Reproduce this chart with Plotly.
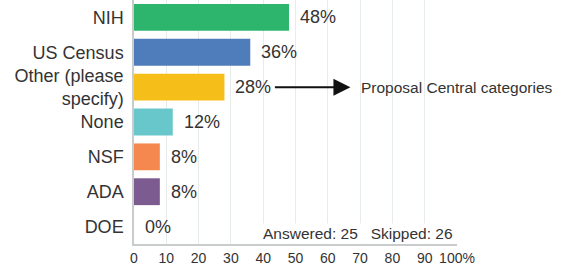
import plotly.graph_objects as go

categories = ["NIH", "US Census", "Other (please<br>specify)", "None", "NSF", "ADA", "DOE"]
values = [48, 36, 28, 12, 8, 8, 0]
labels = ["48%", "36%", "28%", "12%", "8%", "8%", "0%"]
colors = ["#2eb56d", "#4f7cba", "#f6be19", "#68c7cb", "#f5884f", "#7c5b91", "#888888"]
tick_vals = [0, 10, 20, 30, 40, 50, 60, 70, 80, 90, 100]
tick_text = ["0", "10", "20", "30", "40", "50", "60", "70", "80", "90", "100%"]
note_text = "Proposal Central categories"
arrow_head_value = 67
note_value = 70
footer_text = "Answered: 25&nbsp;&nbsp;&nbsp;Skipped: 26"

FONT = "Arial, Liberation Sans, sans-serif"
TXT = "#333333"

fig = go.Figure()
fig.add_trace(go.Bar(
    x=values, y=categories, orientation="h",
    marker=dict(color=colors, line=dict(width=0)),
    hoverinfo="skip",
))

annotations = []
for c, v, lab in zip(categories, values, labels):
    annotations.append(dict(
        x=v, y=c, xref="x", yref="y", text=lab, showarrow=False,
        xanchor="left", yanchor="middle", xshift=9,
        font=dict(family=FONT, size=18, color=TXT),
    ))

# arrow from "28%" label to note
annotations.append(dict(
    x=arrow_head_value, y=categories[2], xref="x", yref="y",
    ax=-77, ay=0, axref="pixel", ayref="pixel",
    text="", showarrow=True, arrowhead=2, arrowsize=1.7, arrowwidth=2,
    arrowcolor="#111111",
))
annotations.append(dict(
    x=note_value, y=categories[2], xref="x", yref="y", text=note_text,
    showarrow=False, xanchor="left", yanchor="middle", xshift=-1,
    font=dict(family=FONT, size=15.5, color=TXT),
))
annotations.append(dict(
    x=100, y=0.045, xref="x", yref="paper", text=footer_text,
    showarrow=False, xanchor="right", yanchor="middle", xshift=-2,
    font=dict(family=FONT, size=15.5, color=TXT),
    bgcolor="white",
))

fig.update_layout(
    width=572, height=266,
    margin=dict(l=134, r=115, t=0, b=19),
    paper_bgcolor="white", plot_bgcolor="white",
    bargap=0.23,
    showlegend=False,
    annotations=annotations,
    font=dict(family=FONT, color=TXT),
    xaxis=dict(
        range=[0, 100], tickvals=tick_vals, ticktext=tick_text,
        showgrid=True, gridcolor="#e6ebec", gridwidth=1,
        zeroline=False, showline=True, linecolor="#c8cccc", linewidth=1.5,
        tickfont=dict(family=FONT, size=14, color=TXT), ticks="",
        fixedrange=True,
    ),
    yaxis=dict(
        autorange="reversed", showgrid=False, zeroline=False,
        showline=True, linecolor="#c8cccc", linewidth=1.5,
        tickfont=dict(family=FONT, size=18, color=TXT), ticks="",
        ticklabelstandoff=5,
        fixedrange=True,
    ),
)

fig.write_html(
    "out.html",
    config={"displayModeBar": False},
    post_script="document.body.style.margin='0';document.body.style.padding='0';",
)
